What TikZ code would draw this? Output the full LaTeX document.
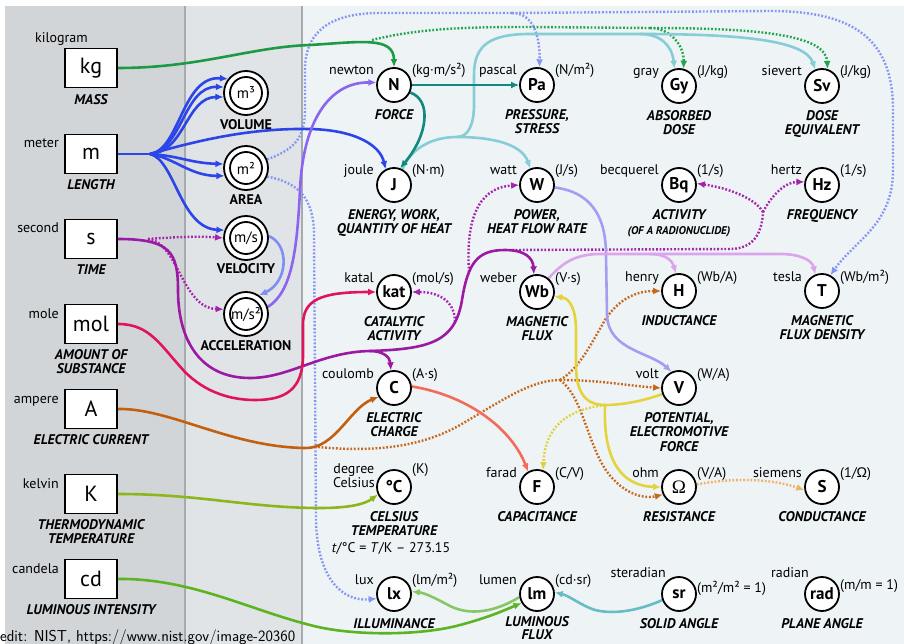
\documentclass[tikz,border=0pt]{standalone}
\usepackage{fontspec}
\setmainfont{PT Sans}
\newfontfamily\grk{Liberation Sans}
\newfontfamily\omegafont{Liberation Serif}
\usetikzlibrary{arrows.meta}

% panel and connector colours
\definecolor{pA}{HTML}{D2D5D8}
\definecolor{pB}{HTML}{E1E4E7}
\definecolor{pC}{HTML}{EEF3F6}
\definecolor{pEdge}{HTML}{A8ABAE}
\definecolor{cKg}{HTML}{1E9A46}
\definecolor{cKgDot}{HTML}{1FA64B}
\definecolor{cJ}{HTML}{86CDD6}
\definecolor{cN}{HTML}{10897F}
\definecolor{cM}{HTML}{2B45E8}
\definecolor{cVel}{HTML}{7E8EF2}
\definecolor{cAcc}{HTML}{8B64F0}
\definecolor{cS}{HTML}{9C1AA3}
\definecolor{cSd}{HTML}{A523AA}
\definecolor{cMol}{HTML}{E0145C}
\definecolor{cA}{HTML}{C2600F}
\definecolor{cAd}{HTML}{C8661A}
\definecolor{cC}{HTML}{F26B5B}
\definecolor{cV}{HTML}{E4D43C}
\definecolor{cVd}{HTML}{E0D03A}
\definecolor{cW}{HTML}{A69DF2}
\definecolor{cWb}{HTML}{DBA5EC}
\definecolor{cMd}{HTML}{8595F3}
\definecolor{cK}{HTML}{8DB51C}
\definecolor{cCd}{HTML}{5DB422}
\definecolor{cLm}{HTML}{87C766}
\definecolor{cSr}{HTML}{67BDC5}
\definecolor{cOhm}{HTML}{F2B266}

\pgfdeclarelayer{back}
\pgfdeclarelayer{lines}
\pgfsetlayers{back,lines,main}

% derived unit: circle, name, unit expression and quantity
\newcommand{\Quant}[7]{%
  \node[unit] (#1) at (#2,#3) {#4};
  \node[lname] (#1-name) at ([shift={(-20,-10)}]#1.center) {#5};
  \node[lunit] (#1-unit) at ([shift={(18,-10)}]#1.center) {#6};
  \node[desc] (#1-desc) at ([shift={(0,24)}]#1.center) {#7};}

\begin{document}
\begin{tikzpicture}[x=1pt,y=-1pt,
  unit/.style={circle, draw, line width=1.8pt, fill=white, minimum size=34pt, inner sep=0pt,
    font=\fontsize{17}{17}\selectfont\bfseries},
  dunit/.style={circle, draw, line width=1.8pt, fill=white, minimum size=44pt, inner sep=0pt,
    font=\fontsize{15}{15}\selectfont,
    path picture={\draw[line width=1.8pt] (path picture bounding box.center) circle[radius=16pt];}},
  sibox/.style={rectangle, draw, line width=1.8pt, fill=white, minimum width=52pt,
    minimum height=39pt, inner sep=0pt, font=\fontsize{22}{22}\selectfont},
  lname/.style={anchor=base east, inner sep=0pt, font=\fontsize{14}{16}\selectfont},
  lunit/.style={anchor=base west, inner sep=0pt, font=\fontsize{14}{16}\selectfont},
  desc/.style={anchor=north, inner sep=0pt, align=center,
    font=\fontsize{14}{14.5}\selectfont\bfseries\itshape},
  qty/.style={anchor=north, inner sep=0pt, align=center, font=\fontsize{14}{14}\selectfont\bfseries},
  arr/.style={-{Latex[length=8pt,width=7pt]}},
  lineonly/.style={line width=2.6pt},
  link/.style={line width=2.6pt, arr},
  dots/.style={line width=2.4pt, dash pattern=on 1.8pt off 1.8pt},
]
\useasboundingbox (0,0) rectangle (904,644);

% ---------- panels ----------
\begin{pgfonlayer}{back}
  \fill[white] (0,0) rectangle (904,644);
  \fill[pA] (5,6) rectangle (185,644);
  \fill[pB] (185,6) rectangle (302,644);
  \fill[pC] (302,6) rectangle (904,644);
  \draw[pEdge, line width=1.5pt] (185,6) -- (185,644);
  \draw[pEdge, line width=1.5pt] (302,6) -- (302,644);
\end{pgfonlayer}

% ---------- base units ----------
\node[sibox] (kg) at (91,68) {kg};
\node[lname] (kg-name) at (88,43) {kilogram};
\node[desc] (kg-desc) at (91,94) {MASS};
\node[sibox] (m) at (91,154) {m};
\node[lname] (m-name) at (59,148) {meter};
\node[desc] (m-desc) at (91,179) {LENGTH};
\node[sibox] (s) at (91,239) {s};
\node[lname] (s-name) at (59,233) {second};
\node[desc] (s-desc) at (91,264) {TIME};
\node[sibox] (mol) at (91,324) {mol};
\node[lname] (mol-name) at (59,318) {mole};
\node[desc] (mol-desc) at (91,349) {AMOUNT OF\\SUBSTANCE};
\node[sibox] (A) at (91,409) {A};
\node[lname] (A-name) at (59,403) {ampere};
\node[desc] (A-desc) at (91,434) {ELECTRIC CURRENT};
\node[sibox] (K) at (91,494) {K};
\node[lname] (K-name) at (59,488) {kelvin};
\node[desc] (K-desc) at (91,519) {THERMODYNAMIC\\TEMPERATURE};
\node[sibox] (cd) at (91,579) {cd};
\node[lname] (cd-name) at (59,573) {candela};
\node[desc] (cd-desc) at (91,604) {LUMINOUS INTENSITY};

% ---------- geometric quantities ----------
\node[dunit] (m3) at (246,93) {m³};
\node[qty] (m3-desc) at (246,119) {VOLUME};
\node[dunit] (m2) at (246,168) {m²};
\node[qty] (m2-desc) at (246,194) {AREA};
\node[dunit] (ms) at (246,238) {m/s};
\node[qty] (ms-desc) at (246,263) {VELOCITY};
\node[dunit] (ms2) at (246,314) {m/s²};
\node[qty] (ms2-desc) at (246,340) {ACCELERATION};

% ---------- derived units ----------
\Quant{N}{394}{85}{N}{newton}{(kg·m/s²)}{FORCE}
\Quant{Pa}{537}{85}{Pa}{pascal}{(N/m²)}{PRESSURE,\\STRESS}
\Quant{Gy}{679}{86}{Gy}{gray}{(J/kg)}{ABSORBED\\DOSE}
\Quant{Sv}{822}{86}{Sv}{sievert}{(J/kg)}{DOSE\\EQUIVALENT}
\Quant{J}{394}{185}{J}{joule}{(N·m)}{ENERGY, WORK,\\QUANTITY OF HEAT}
\Quant{W}{537}{185}{W}{watt}{(J/s)}{POWER,\\HEAT FLOW RATE}
\Quant{Bq}{679}{185}{Bq}{becquerel}{(1/s)}{ACTIVITY}
\node[desc, font=\fontsize{11.2}{12}\selectfont\bfseries\itshape] (Bq-sub) at (679,226) {(OF A RADIONUCLIDE)};
\Quant{Hz}{822}{185}{Hz}{hertz}{(1/s)}{FREQUENCY}
\Quant{kat}{394}{292}{kat}{katal}{(mol/s)}{CATALYTIC\\ACTIVITY}
\Quant{Wb}{537}{292}{Wb}{weber}{(V·s)}{MAGNETIC\\FLUX}
\Quant{H}{679}{291}{H}{henry}{(Wb/A)}{INDUCTANCE}
\Quant{T}{822}{291}{T}{tesla}{(Wb/m²)}{MAGNETIC\\FLUX DENSITY}
\Quant{C}{394}{388}{C}{coulomb}{(A·s)}{ELECTRIC\\CHARGE}
\Quant{V}{679}{388}{V}{volt}{(W/A)}{POTENTIAL,\\ELECTROMOTIVE\\FORCE}
\node[unit] (degC) at (394,487) {°C};
\node[lname, anchor=east, align=center, font=\fontsize{14}{14}\selectfont] (degC-name) at (375,476) {degree\\Celsius};
\node[lunit] (degC-unit) at ([shift={(18,-14)}]degC.center) {(K)};
\node[desc] (degC-desc) at ([shift={(0,24)}]degC.center) {CELSIUS\\TEMPERATURE};
\node[anchor=base, inner sep=0pt, font=\fontsize{14}{16}\selectfont] (degC-rel) at (391,552)
  {\textit{t}/°C = \textit{T}/K – 273.15};
\Quant{F}{537}{487}{F}{farad}{(C/V)}{CAPACITANCE}
\Quant{ohm}{679}{487}{{\omegafont\mdseries\fontsize{19}{19}\selectfont Ω}}{ohm}{(V/A)}{RESISTANCE}
\Quant{S}{822}{487}{S}{siemens}{(1/{\grk Ω})}{CONDUCTANCE}
\Quant{lx}{394}{594}{lx}{lux}{(lm/m²)}{ILLUMINANCE}
\node[unit] (lm) at (537,594) {lm};
\node[lname] (lm-name) at ([shift={(-20,-10)}]lm.center) {lumen};
\node[lunit] (lm-unit) at ([shift={(18,-10)}]lm.center) {(cd·sr)};
\node[desc, font=\fontsize{14}{13.5}\selectfont\bfseries\itshape] (lm-desc) at ([shift={(0,22)}]lm.center) {LUMINOUS\\FLUX};
\node[unit] (sr) at (679,594) {sr};
\node[lname] (sr-name) at (666,577) {steradian};
\node[lunit] (sr-unit) at (697,592) {(m²/m² = 1)};
\node[desc] (sr-desc) at ([shift={(0,24)}]sr.center) {SOLID ANGLE};
\node[unit] (rad) at (822,594) {rad};
\node[lname] (rad-name) at (809,577) {radian};
\node[lunit] (rad-unit) at (840,589) {(m/m = 1)};
\node[desc] (rad-desc) at ([shift={(0,24)}]rad.center) {PLANE ANGLE};

\node[anchor=base west, inner sep=0pt, font=\sffamily\fontsize{15.8}{16}\selectfont] (credit) at (0,641)
  {edit: NIST, https://www.nist.gov/image-20360};

% ---------- connectors ----------
\begin{pgfonlayer}{lines}
  % junction points
  \coordinate (kgd) at (372,40);
  \coordinate (gd) at (650,28);
  \coordinate (jt) at (457,137);
  \coordinate (jg) at (640,34);
  \coordinate (mj) at (150,154);
  \coordinate (sd) at (148,239);
  \coordinate (sj) at (370,351);
  \coordinate (pk) at (455,322);
  \coordinate (pw) at (469,272);
  \coordinate (pb) at (512,250);
  \coordinate (pf) at (763,212);
  \coordinate (ad) at (318,447);
  \coordinate (aj) at (560,380);
  \coordinate (yj) at (605,405);
  \coordinate (pj) at (650,254);
  \coordinate (bj) at (512,13);

  % dotted (divisions)
  \draw[dots, cKgDot] (kgd) .. controls (420,28) and (470,27) .. (530,27) -- (gd);
  \draw[dots, cKgDot, arr] (gd) .. controls (670,28) and (684,45) .. (Gy.75);
  \draw[dots, cKgDot, arr] (gd) .. controls (760,28) and (826,35) .. (Sv.72);

  \draw[dots, cMd] (m2.22) .. controls (292,150) and (305,140) .. (305,110) -- (305,70)
    .. controls (305,28) and (335,13) .. (380,13) -- (bj);
  \draw[dots, cMd, arr] (bj) .. controls (535,13) and (540,40) .. (Pa.82);
  \draw[dots, cMd, arr] (bj) -- (770,11) .. controls (855,11) and (893,40) .. (893,110) -- (893,170)
    .. controls (893,225) and (855,240) .. (T.62);
  \draw[dots, cMd, arr] (m2.-22) .. controls (295,182) and (314,195) .. (314,235) -- (316,520)
    .. controls (317,578) and (342,602) .. (lx.195);

  \draw[dots, cSd, arr] (sd) .. controls (175,237) and (200,236) .. (ms.180);
  \draw[dots, cSd, arr] (sd) .. controls (178,242) and (182,308) .. (ms2.168);
  \draw[dots, cSd, arr] (pk) .. controls (455,302) and (440,292) .. (kat.east);
  \draw[dots, cSd, arr] (pw) .. controls (466,225) and (475,188) .. (W.180);
  \draw[dots, cSd] (pb) -- (730,249) .. controls (752,249) and (762,235) .. (pf);
  \draw[dots, cSd, arr] (pf) .. controls (755,198) and (728,188) .. (Bq.5);
  \draw[dots, cSd, arr] (pf) .. controls (772,195) and (785,182) .. (Hz.170);

  \draw[dots, cAd] (ad) .. controls (380,453) and (425,445) .. (460,425)
    .. controls (500,402) and (530,380) .. (aj);
  \draw[dots, cAd, arr] (aj) .. controls (600,380) and (630,386) .. (V.180);
  \draw[dots, cAd, arr] (aj) .. controls (580,368) and (592,342) .. (605,320)
    .. controls (618,300) and (635,291) .. (H.180);
  \draw[dots, cAd, arr] (aj) .. controls (580,395) and (585,430) .. (600,460)
    .. controls (615,490) and (640,500) .. (ohm.205);

  \draw[dots, cVd, arr] (yj) .. controls (565,410) and (545,428) .. (F.70);
  \draw[dots, cOhm, arr] (ohm.8) .. controls (730,478) and (770,478) .. (S.190);

  % solid (products)
  \draw[link, cKg] (kg.east) .. controls (200,68) and (250,47) .. (310,45)
    .. controls (360,42) and (394,36) .. (N.north);

  \draw[lineonly, cJ] (J.62) .. controls (410,150) and (430,137) .. (jt);
  \draw[link, cJ] (jt) .. controls (495,137) and (522,145) .. (W.112);
  \draw[lineonly, cJ] (jt) .. controls (468,137) and (474,125) .. (474,105) -- (474,75)
    .. controls (474,45) and (490,34) .. (530,34) -- (jg);
  \draw[link, cJ] (jg) .. controls (660,34) and (672,45) .. (Gy.105);
  \draw[link, cJ] (jg) .. controls (740,34) and (805,40) .. (Sv.112);

  \draw[link, cN] (N.east) -- (Pa.west);
  \draw[link, cN] (N.-25) .. controls (432,100) and (428,135) .. (J.70);

  \draw[lineonly, cM] (m.east) -- (mj);
  \draw[link, cM] (mj) .. controls (180,150) and (182,75) .. (m3.142);
  \draw[link, cM] (mj) .. controls (182,150) and (184,86) .. (m3.165);
  \draw[link, cM] (mj) .. controls (185,152) and (186,97) .. (m3.190);
  \draw[link, cM] (mj) .. controls (180,156) and (190,163) .. (m2.170);
  \draw[link, cM] (mj) .. controls (175,158) and (190,176) .. (m2.200);
  \draw[link, cM] (mj) .. controls (175,160) and (180,228) .. (ms.160);
  \draw[link, cM] (mj) .. controls (200,140) and (250,128) .. (310,129)
    .. controls (355,130) and (380,145) .. (J.118);

  \draw[link, cVel] (ms.5) .. controls (290,245) and (288,282) .. (ms2.55);
  \draw[link, cAcc] (ms2.18) .. controls (292,292) and (297,250) .. (300,190)
    .. controls (303,120) and (330,82) .. (N.172);

  \draw[link, cS] (s.east) .. controls (170,239) and (178,252) .. (178,290)
    .. controls (178,340) and (200,378) .. (250,378)
    .. controls (290,378) and (320,352) .. (sj)
    .. controls (430,349) and (455,342) .. (462,300)
    .. controls (468,262) and (478,250) .. (505,250)
    .. controls (525,250) and (533,258) .. (Wb.100);
  \draw[link, cS] (sj) .. controls (383,351) and (390,357) .. (C.100);

  \draw[link, cMol] (mol.east) .. controls (150,324) and (160,345) .. (185,372)
    .. controls (205,392) and (230,400) .. (255,400)
    .. controls (285,400) and (303,390) .. (303,355) -- (303,325)
    .. controls (303,300) and (320,292) .. (kat.west);

  \draw[link, cA] (A.east) .. controls (170,408) and (230,447) .. (305,448)
    .. controls (335,449) and (350,408) .. (C.210);

  \draw[link, cC] (C.5) .. controls (470,396) and (512,430) .. (F.120);

  \draw[lineonly, cV] (V.200) .. controls (640,402) and (620,405) .. (yj);
  \draw[link, cV] (yj) .. controls (585,405) and (576,392) .. (576,365) -- (576,330)
    .. controls (576,310) and (570,298) .. (Wb.-15);
  \draw[link, cV] (yj) .. controls (603,455) and (618,486) .. (ohm.180);

  \draw[link, cW] (W.-8) .. controls (590,192) and (606,215) .. (606,255) -- (607,315)
    .. controls (608,350) and (650,352) .. (V.115);

  \draw[lineonly, cWb] (Wb.50) .. controls (560,266) and (572,254) .. (600,254) -- (pj);
  \draw[link, cWb] (pj) .. controls (665,254) and (672,260) .. (H.100);
  \draw[link, cWb] (pj) -- (780,254) .. controls (800,254) and (812,260) .. (T.112);

  \draw[link, cK] (K.east) .. controls (200,494) and (250,508) .. (320,508)
    .. controls (350,508) and (365,504) .. (degC.205);

  \draw[link, cCd] (cd.east) .. controls (190,578) and (250,610) .. (310,625)
    .. controls (350,636) and (420,636) .. (460,625)
    .. controls (490,617) and (505,610) .. (lm.210);

  \draw[link, cLm] (lm.190) .. controls (495,612) and (470,616) .. (450,606)
    .. controls (435,598) and (425,593) .. (lx.8);

  \draw[link, cSr] (sr.200) .. controls (640,610) and (615,615) .. (595,610)
    .. controls (580,605) and (570,596) .. (lm.5);
\end{pgfonlayer}
\end{tikzpicture}
\end{document}
